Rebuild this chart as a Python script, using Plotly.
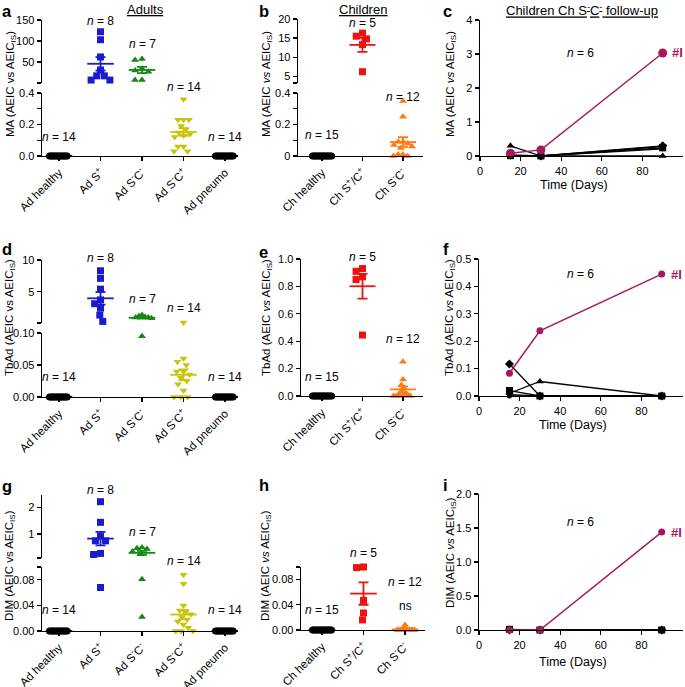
import numpy as np
import plotly.graph_objects as go

W, H = 685, 687
FONT = "Liberation Sans, Arial, sans-serif"

# ---------------- data ----------------
adult_groups = ["Ad healthy", "Ad S<sup>+</sup>", "Ad S<sup>-</sup>C<sup>-</sup>",
                "Ad S<sup>-</sup>C<sup>+</sup>", "Ad pneumo"]
child_groups = ["Ch healthy", "Ch S<sup>+</sup>/C<sup>+</sup>", "Ch S<sup>-</sup>C<sup>-</sup>"]

# MA, adults
ma_ad_healthy = [0, 0, 0, 0, 0, 0, 0, 0, 0, 0, 0, 0, 0, 0]
ma_ad_splus = [122, 103, 62, 31, 17, 7, 7, 17]
ma_ad_smcm = [57, 55, 34, 30, 27, 7, 7]
ma_ad_smcp = [0.36, 0.23, 0.23, 0.23, 0.19, 0.17, 0.15, 0.14, 0.13, 0.12, 0.06, 0.06, 0.03, 0.03]
ma_ad_pneumo = [0, 0, 0, 0, 0, 0, 0, 0, 0, 0, 0, 0, 0, 0]
# MA, children
ma_ch_healthy = [0, 0, 0, 0, 0, 0, 0, 0, 0, 0, 0, 0, 0, 0, 0]
ma_ch_spcp = [16.3, 15.5, 14.8, 13.3, 6.2]
ma_ch_smcm = [0.35, 0.25, 0.09, 0.09, 0.08, 0.07, 0.06, 0.05, 0.01, 0.01, 0.0, 0.0]
# TbAd, adults
tb_ad_healthy = [0, 0, 0, 0, 0, 0, 0, 0, 0, 0, 0, 0, 0, 0]
tb_ad_splus = [8.3, 7.1, 5.4, 3.7, 3.1, 2.4, 1.3, 0.3]
tb_ad_smcm = [1.3, 1.1, 1.0, 0.9, 0.9, 0.8, 0.095]
tb_ad_smcp = [0.12, 0.06, 0.055, 0.05, 0.04, 0.04, 0.035, 0.03, 0.025, 0.02, 0.01, 0.0, 0.0, 0.0]
tb_ad_pneumo = [0, 0, 0, 0, 0, 0, 0, 0, 0, 0, 0, 0, 0, 0]
# TbAd, children
tb_ch_healthy = [0, 0, 0, 0, 0, 0, 0, 0, 0, 0, 0, 0, 0, 0, 0]
tb_ch_spcp = [0.93, 0.91, 0.87, 0.85, 0.445]
tb_ch_smcm = [0.25, 0.12, 0.08, 0.06, 0.03, 0.02, 0.01, 0.01, 0.0, 0.0, 0.0, 0.0]
# DIM, adults
dim_ad_healthy = [0, 0, 0, 0, 0, 0, 0, 0, 0, 0, 0, 0, 0, 0]
dim_ad_splus = [2.21, 1.44, 0.93, 0.75, 0.75, 0.28, 0.24, 0.068]
dim_ad_smcm = [0.50, 0.47, 0.45, 0.35, 0.25, 0.081, 0.022]
dim_ad_smcp = [0.088, 0.074, 0.040, 0.032, 0.030, 0.026, 0.022, 0.018, 0.015, 0.010, 0.005, 0.0, 0.0, 0.0]
dim_ad_pneumo = [0, 0, 0, 0, 0, 0, 0, 0, 0, 0, 0, 0, 0, 0]
# DIM, children
dim_ch_healthy = [0, 0, 0, 0, 0, 0, 0, 0, 0, 0, 0, 0, 0, 0, 0]
dim_ch_spcp = [0.100, 0.099, 0.047, 0.027, 0.016]
dim_ch_smcm = [0.008, 0.002, 0.001, 0, 0, 0, 0, 0, 0, 0, 0, 0]

# follow-up of children Ch S-C- (days 15, 30, 90)
fu_days = [15, 30, 90]
ma_fu_I = [0.08, 0.18, 3.03]
ma_fu_tri = [0.30, 0.0, 0.0]
ma_fu_dia = [0.03, 0.0, 0.30]
ma_fu_tdn = [0.0, 0.0, 0.28]
ma_fu_sq = [0.01, 0.0, 0.24]
ma_fu_cir = [0.0, 0.0, 0.21]
tb_fu_I = [0.083, 0.238, 0.445]
tb_fu_tri = [0.01, 0.053, 0.0]
tb_fu_dia = [0.117, 0.0, 0.0]
tb_fu_tdn = [0.005, 0.0, 0.0]
tb_fu_sq = [0.02, 0.0, 0.0]
tb_fu_cir = [0.0, 0.0, 0.0]
dim_fu_I = [0.0, 0.0, 1.44]
dim_fu_tri = [0.0, 0.0, 0.0]
dim_fu_dia = [0.0, 0.0, 0.0]
dim_fu_tdn = [0.0, 0.0, 0.0]
dim_fu_sq = [0.01, 0.0, 0.0]
dim_fu_cir = [0.0, 0.0, 0.0]

# ---------------- styles ----------------
BLUE, GREEN, YELLOW = "#1a1acf", "#138a13", "#c9c40a"
RED, ORANGE, MAGENTA = "#f01010", "#ff7a10", "#a8185e"
adult_colors = ["black", BLUE, GREEN, YELLOW, "black"]
adult_symbols = ["circle", "square", "triangle-up", "triangle-down", "circle"]
child_colors = ["black", RED, ORANGE]
child_symbols = ["circle", "square", "triangle-up"]

AX = dict(showline=True, linecolor="black", linewidth=1.4, ticks="outside", ticklen=4,
          tickwidth=1.4, tickcolor="black", showgrid=False, zeroline=False, automargin=False,
          tickfont=dict(family=FONT, size=11, color="black"), fixedrange=True)

fig = go.Figure()
lay = {}
anns = []
counter = {"x": 0, "y": 0}


def alloc(k):
    counter[k] += 1
    n = counter[k]
    return (k if n == 1 else f"{k}{n}"), (f"{k}axis" if n == 1 else f"{k}axis{n}")


def fx(px):
    return px / W


def fy(py):
    return 1 - py / H


def text(x, y, s, size=12, color="black", xanchor="center", yanchor="middle", **kw):
    anns.append(dict(x=fx(x), y=fy(y), xref="paper", yref="paper", text=s, showarrow=False,
                     font=dict(family=FONT, size=size, color=color),
                     xanchor=xanchor, yanchor=yanchor, **kw))


def swarm(vals, ypix, d=7.0, cap=9.5):
    ys = [ypix(v) for v in vals]
    order = sorted(range(len(vals)), key=lambda i: ys[i])
    placed, xs = [], [0.0] * len(vals)
    for i in order:
        y = ys[i]
        cands, forb = [0.0], []
        for xj, yj in placed:
            dy = abs(y - yj)
            if dy < d:
                w = (d * d - dy * dy) ** 0.5
                forb.append((xj - w, xj + w))
                cands += [xj - w, xj + w]
        cands.sort(key=lambda c: (abs(c), c))
        for c in cands:
            if all(not (a + 1e-9 < c < b - 1e-9) for a, b in forb):
                xs[i] = c
                break
        placed.append((xs[i], y))
    m = max(abs(x) for x in xs) if xs else 0
    if m > cap:
        xs = [x * cap / m for x in xs]
    return xs


def cat_panel(groups, datasets, colors, symbols, xpx, segs, nlabels, ytitle, ytitle_pos):
    x0, x1, p0, s = xpx
    xid, xkey = alloc("x")
    yids = []
    for seg in segs:
        yid, ykey = alloc("y")
        ytop, ybot = seg["px"]
        lay[ykey] = dict(AX, domain=[fy(ybot), fy(ytop)], range=list(seg["range"]), anchor=xid,
                         tickvals=seg["tv"], ticktext=seg["tt"], tickmode="array")
        yids.append(yid)
    lay[xkey] = dict(AX, domain=[fx(x0), fx(x1)], range=[(x0 - p0) / s, (x1 - p0) / s],
                     anchor=yids[0], tickvals=list(range(len(groups))), ticktext=groups,
                     tickmode="array", tickangle=-45,
                     tickfont=dict(family=FONT, size=11.5, color="black"))
    thr = segs[0]["range"][1]

    def seg_index(v):
        return 0 if (len(segs) == 1 or v <= thr) else 1

    def ypix(v):
        seg = segs[seg_index(v)]
        ytop, ybot = seg["px"]
        lo, hi = seg["range"]
        return ybot - (v - lo) / (hi - lo) * (ybot - ytop)

    for gi, vals in enumerate(datasets):
        offs = swarm(vals, ypix)
        for si in range(len(segs)):
            idx = [k for k, v in enumerate(vals) if seg_index(v) == si]
            if not idx:
                continue
            fig.add_trace(go.Scatter(
                x=[gi + offs[k] / s for k in idx], y=[vals[k] for k in idx], mode="markers",
                marker=dict(symbol=symbols[gi], color=colors[gi], size=7, line=dict(width=0)),
                xaxis=xid, yaxis=yids[si], cliponaxis=False, showlegend=False, hoverinfo="skip"))
        mean = float(np.mean(vals))
        sem = float(np.std(vals, ddof=1) / np.sqrt(len(vals)))
        si = seg_index(mean)
        fig.add_trace(go.Scatter(
            x=[gi - 0.32, gi + 0.32], y=[mean, mean], mode="lines",
            line=dict(color=colors[gi], width=1.8), xaxis=xid, yaxis=yids[si],
            cliponaxis=False, showlegend=False, hoverinfo="skip"))
        if sem > 0:
            fig.add_trace(go.Scatter(
                x=[gi], y=[mean], mode="markers",
                marker=dict(size=1, color="rgba(0,0,0,0)"),
                error_y=dict(type="data", array=[sem], color=colors[gi], thickness=1.8, width=5),
                xaxis=xid, yaxis=yids[si], cliponaxis=False, showlegend=False, hoverinfo="skip"))
        # n label
        ny = nlabels[gi]
        text(p0 + gi * s, ny, f"<i>n</i> = {len(vals)}", size=12)
    text(ytitle_pos[0], ytitle_pos[1], ytitle, size=11.5, textangle=-90)
    return p0, s


def line_panel(series, xpx, ypx, yr, tv, tt, ytitle, ytitle_pos, n_pos, xlab_y, msize_I):
    x0, x1 = xpx
    ytop, ybot = ypx
    xid, xkey = alloc("x")
    yid, ykey = alloc("y")
    lay[xkey] = dict(AX, domain=[fx(x0), fx(x1)], range=[0, (x1 - x0) / 2.03], anchor=yid,
                     tickvals=[0, 20, 40, 60, 80], tickmode="array")
    lay[ykey] = dict(AX, domain=[fy(ybot), fy(ytop)], range=list(yr), anchor=xid,
                     tickvals=tv, ticktext=tt, tickmode="array")
    for vals, color, sym, size, lw in series:
        fig.add_trace(go.Scatter(
            x=fu_days, y=vals, mode="lines+markers",
            line=dict(color=color, width=lw),
            marker=dict(symbol=sym, color=color, size=size, line=dict(width=0)),
            xaxis=xid, yaxis=yid, cliponaxis=False, showlegend=False, hoverinfo="skip"))
    last = series[-1][0]
    anns.append(dict(x=fu_days[-1], y=last[-1], xref=xid, yref=yid, text="<b>#I</b>",
                     showarrow=False, xanchor="left", yanchor="middle", xshift=7,
                     font=dict(family=FONT, size=13, color=MAGENTA)))
    text(n_pos[0], n_pos[1], f"<i>n</i> = {len(series)}", size=12)
    text((x0 + x1) / 2 - 8, xlab_y, "Time (Days)", size=12.5)
    text(ytitle_pos[0], ytitle_pos[1], ytitle, size=11.5, textangle=-90)


# ---------------- panels ----------------
seg_a = [dict(px=(93, 156), range=(0, 0.4), tv=[0, 0.1, 0.2, 0.3, 0.4], tt=["0.0", "", "0.2", "", "0.4"]),
         dict(px=(20, 83), range=(0, 150), tv=[0, 50, 100, 150], tt=["", "50", "100", "150"])]
seg_b = [dict(px=(93, 156), range=(0, 0.4), tv=[0, 0.1, 0.2, 0.3, 0.4], tt=["0", "", "0.2", "", "0.4"]),
         dict(px=(19, 83), range=(3.25, 20), tv=[3.25, 5, 10, 15, 20], tt=["", "5", "10", "15", "20"])]
seg_d = [dict(px=(333, 397), range=(0, 0.1), tv=[0, 0.05, 0.1], tt=["0.00", "0.05", "0.10"]),
         dict(px=(260, 323), range=(0.05, 10), tv=[0.05, 5, 10], tt=["", "5", "10"])]
seg_e = [dict(px=(259, 396), range=(0, 1), tv=[0, 0.2, 0.4, 0.6, 0.8, 1.0],
              tt=["0.0", "0.2", "0.4", "0.6", "0.8", "1.0"])]
seg_g = [dict(px=(567, 631), range=(0, 0.1), tv=[0, 0.04, 0.08, 0.1], tt=["0.00", "0.04", "0.08", ""]),
         dict(px=(495, 558), range=(0.11, 2.46), tv=[0.11, 1, 2], tt=["", "1", "2"])]
seg_h = [dict(px=(567, 630), range=(0, 0.1), tv=[0, 0.04, 0.08, 0.1], tt=["0.00", "0.04", "0.08", ""]),
         dict(px=(494, 557), range=(0.99, 2.0), tv=[0.99, 1.2, 1.6, 2.0], tt=["", "1.2", "1.6", "2.0"])]

IS = "AEIC<sub>IS</sub>)"
cat_panel(adult_groups, [ma_ad_healthy, ma_ad_splus, ma_ad_smcm, ma_ad_smcp, ma_ad_pneumo],
          adult_colors, adult_symbols, (42, 238, 59, 41.5), seg_a, [137, 21, 44, 87, 137],
          "MA (AEIC vs " + IS, (11, 84))
cat_panel(child_groups, [ma_ch_healthy, ma_ch_spcp, ma_ch_smcm],
          child_colors, child_symbols, (298, 423, 322, 40.5), seg_b, [135, 23, 97],
          "MA (AEIC <i>vs</i> " + IS, (267, 84))
cat_panel(adult_groups, [tb_ad_healthy, tb_ad_splus, tb_ad_smcm, tb_ad_smcp, tb_ad_pneumo],
          adult_colors, adult_symbols, (42, 238, 59, 41.5), seg_d, [377, 258, 299, 308, 377],
          "TbAd (AEIC vs " + IS, (10, 318))
cat_panel(child_groups, [tb_ch_healthy, tb_ch_spcp, tb_ch_smcm],
          child_colors, child_symbols, (301, 423, 322, 40.5), seg_e, [377, 257, 339],
          "TbAd (AEIC <i>vs</i> " + IS, (267, 318))
cat_panel(adult_groups, [dim_ad_healthy, dim_ad_splus, dim_ad_smcm, dim_ad_smcp, dim_ad_pneumo],
          adult_colors, adult_symbols, (42, 238, 59, 41.5), seg_g, [610, 490, 532, 561, 610],
          "DIM (AEIC vs " + IS, (10, 566))
cat_panel(child_groups, [dim_ch_healthy, dim_ch_spcp, dim_ch_smcm],
          child_colors, child_symbols, (301, 425, 322, 41.5), seg_h, [610, 553, 582],
          "DIM (AEIC <i>vs</i> " + IS, (266, 566))
text(405, 606, "ns", size=12)


def fu_series(tri, dia, tdn, sq, cir, mI, msize_I):
    return [(tri, "black", "triangle-up", 7, 1.3), (dia, "black", "diamond", 7, 1.3),
            (tdn, "black", "triangle-down", 7, 1.3), (sq, "black", "square", 7, 1.3),
            (cir, "black", "circle", 5, 1.3), (mI, MAGENTA, "circle", msize_I, 1.5)]


line_panel(fu_series(ma_fu_tri, ma_fu_dia, ma_fu_tdn, ma_fu_sq, ma_fu_cir, ma_fu_I, 9),
           (480, 683), (20, 156), (0, 4), [0, 1, 2, 3, 4], ["0", "1", "2", "3", "4"],
           "MA (AEIC <i>vs</i> " + IS, (451, 84), (580, 53), 185, 9)
line_panel(fu_series(tb_fu_tri, tb_fu_dia, tb_fu_tdn, tb_fu_sq, tb_fu_cir, tb_fu_I, 7),
           (479, 683), (259, 396), (0, 0.5), [0, 0.1, 0.2, 0.3, 0.4, 0.5],
           ["0.0", "0.1", "0.2", "0.3", "0.4", "0.5"],
           "TbAd (AEIC <i>vs</i> " + IS, (450, 318), (580, 274), 425, 7)
line_panel(fu_series(dim_fu_tri, dim_fu_dia, dim_fu_tdn, dim_fu_sq, dim_fu_cir, dim_fu_I, 7),
           (479, 683), (494, 630), (0, 2), [0, 0.5, 1, 1.5, 2], ["0.0", "0.5", "1.0", "1.5", "2.0"],
           "DIM (AEIC <i>vs</i> " + IS, (451, 553), (580, 522), 662, 7)

# titles and panel letters
text(145, 0, "<u>Adults</u>", size=13, yanchor="top")
text(363, 0, "<u>Children</u>", size=13, yanchor="top")
text(582, 0, "<u>Children Ch S<sup>-</sup>C<sup>-</sup> follow-up</u>", size=13, yanchor="top")
for letter, x, y in [("a", 0, 0), ("b", 257, 0), ("c", 441, 0), ("d", 0, 238), ("e", 257, 241),
                     ("f", 441, 238), ("g", 0, 475), ("h", 257, 474), ("i", 441, 474)]:
    text(x, y, f"<b>{letter}</b>", size=16.5, xanchor="left", yanchor="top")

fig.update_layout(template="none", width=W, height=H, margin=dict(l=0, r=0, t=0, b=0, pad=0),
                  paper_bgcolor="white", plot_bgcolor="white", showlegend=False,
                  annotations=anns, font=dict(family=FONT, color="black"), **lay)
fig.write_html("out.html", config={"displayModeBar": False, "staticPlot": True},
               post_script="document.body.style.margin='0';document.body.style.padding='0';"
                           "document.body.style.overflow='hidden';")
